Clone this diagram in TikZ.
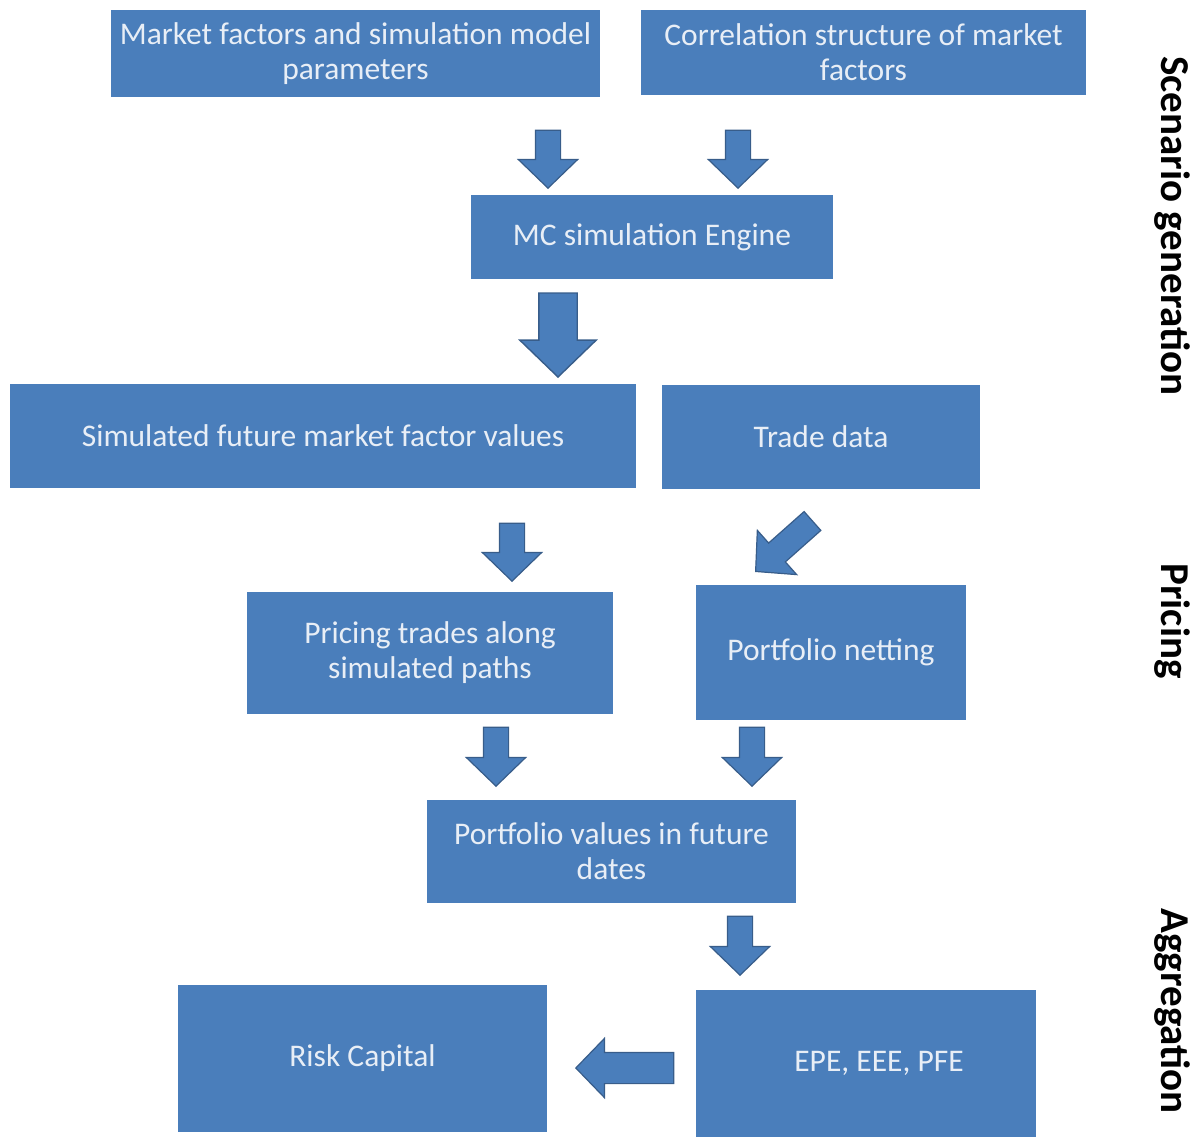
\documentclass[tikz,border=0pt]{standalone}
\usepackage{fontspec}
\setmainfont{Carlito}
\usetikzlibrary{shapes.arrows}
\definecolor{boxblue}{RGB}{74,126,187}
\definecolor{arrowline}{RGB}{56,93,138}
\definecolor{boxtext}{RGB}{232,238,246}
\tikzset{
  blockbox/.style={fill=boxblue, text=boxtext, inner sep=0pt, align=center,
    font=\fontsize{31.5}{35}\selectfont},
  smallarrow/.style={single arrow, fill=boxblue, draw=arrowline, line width=1.2pt,
    inner sep=0pt, inner ysep=12pt, single arrow head extend=17pt,
    single arrow tip angle=92, minimum height=58pt, anchor=tip},
  bigarrow/.style={single arrow, fill=boxblue, draw=arrowline, line width=1.4pt,
    inner sep=0pt, inner ysep=18.5pt, single arrow head extend=19pt,
    single arrow tip angle=92, minimum height=84pt, anchor=tip},
  sidelabel/.style={font=\fontsize{41}{44}\selectfont\bfseries, text=black, rotate=-90, inner sep=0pt}
}
\begin{document}
\begin{tikzpicture}[x=1pt,y=-1pt]
\useasboundingbox (0,0) rectangle (1199,1137);
% boxes
\node[blockbox, minimum width=489pt, minimum height=87pt] (m1) at (355.5,53.5) {Market factors and simulation model\\parameters};
\node[blockbox, minimum width=445pt, minimum height=85pt] (m2) at (863.5,52.5) {Correlation structure of market\\factors};
\node[blockbox, minimum width=362pt, minimum height=84pt] (mc) at (652,237) {MC simulation Engine};
\node[blockbox, minimum width=626pt, minimum height=104pt] (sim) at (323,436) {Simulated future market factor values};
\node[blockbox, minimum width=318pt, minimum height=104pt] (trade) at (821,437) {Trade data};
\node[blockbox, minimum width=366pt, minimum height=122pt] (price) at (430,653) {Pricing trades along\\simulated paths};
\node[blockbox, minimum width=270pt, minimum height=135pt] (net) at (831,652.5) {Portfolio netting};
\node[blockbox, minimum width=369pt, minimum height=103pt] (pv) at (611.5,851.5) {Portfolio values in future\\dates};
\node[blockbox, minimum width=340pt, minimum height=147pt] (epe) at (866,1063.5) {\hspace*{26pt}EPE, EEE, PFE};
\node[blockbox, minimum width=369pt, minimum height=147pt] (risk) at (362.5,1058.5) {Risk Capital};
% block arrows (placed by their tips)
\node[smallarrow, rotate=-90] (a1) at (548,189) {};
\node[smallarrow, rotate=-90] (a2) at (738,189) {};
\node[bigarrow, rotate=-90] (a3) at (558,378) {};
\node[smallarrow, rotate=-90] (a4) at (512,582) {};
\node[smallarrow, rotate=221.6, minimum height=76pt] (a5) at (755,572) {};
\node[smallarrow, rotate=-90, minimum height=59pt] (a6) at (496,787) {};
\node[smallarrow, rotate=-90, minimum height=59pt] (a7) at (752,787) {};
\node[smallarrow, rotate=-90, minimum height=59pt] (a8) at (740,976) {};
\node[smallarrow, rotate=180, minimum height=98pt, inner ysep=15pt, single arrow head extend=14pt] (a9) at (575,1068) {};
% side labels
\node[sidelabel] (s1) at (1172,226) {Scenario generation};
\node[sidelabel] (s2) at (1172,621) {Pricing};
\node[sidelabel] (s3) at (1172,1011) {Aggregation};
\end{tikzpicture}
\end{document}
